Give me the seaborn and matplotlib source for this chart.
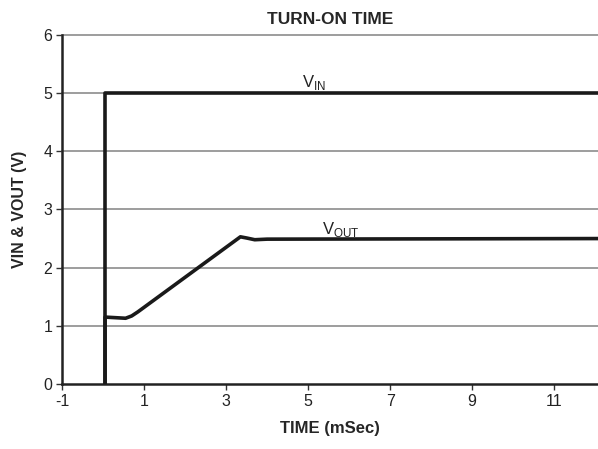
"""
Turn-on time chart: VIN step and VOUT soft-start response.
"""
import matplotlib

matplotlib.use("Agg")
import matplotlib.pyplot as plt
import pandas as pd
import seaborn as sns

# ---- Data ------------------------------------------------------------------ #
vin_time = [0.05, 0.05, 12.1]
vin_volts = [0.0, 5.0, 5.0]

vout_time = [0.05, 0.05, 0.3, 0.55, 0.7, 0.85, 3.35, 3.5, 3.7, 4.0, 12.1]
vout_volts = [0.0, 1.15, 1.14, 1.13, 1.17, 1.24, 2.53, 2.51, 2.48, 2.49, 2.5]

x_ticks = [-1, 1, 3, 5, 7, 9, 11]
y_ticks = [0, 1, 2, 3, 4, 5, 6]

sns.set_style("white")
plt.rcParams["font.family"] = ["Liberation Sans", "DejaVu Sans"]
plt.rcParams["axes.unicode_minus"] = False

vin_df = pd.DataFrame({"t": vin_time, "v": vin_volts})
vout_df = pd.DataFrame({"t": vout_time, "v": vout_volts})

fig = plt.figure(figsize=(5.98, 4.49), dpi=100)
ax = fig.add_axes([0.1037, 0.1448, 0.8963, 0.7773])

for y in y_ticks[1:]:
    ax.axhline(y, color="#8c8c8c", lw=1.2, zorder=1, clip_on=False)

sns.lineplot(data=vin_df, x="t", y="v", sort=False, estimator=None,
             color="#1a1a1a", lw=2.6, ax=ax, zorder=3)
sns.lineplot(data=vout_df, x="t", y="v", sort=False, estimator=None,
             color="#1a1a1a", lw=2.6, ax=ax, zorder=3)

ax.set_xlim(-1, 12.07)
ax.set_ylim(0, 6)
ax.set_xticks(x_ticks)
ax.set_yticks(y_ticks)
ax.tick_params(axis="both", direction="out", length=4, width=1,
               color="#333333", labelsize=11.5, pad=3, colors="#222222")
ax.tick_params(axis="both", which="both", bottom=True, left=True)

for side in ["left", "bottom"]:
    ax.spines[side].set_color("#222222")
    ax.spines[side].set_linewidth(1.8)
ax.spines["top"].set_visible(False)
ax.spines["right"].set_visible(False)

ax.text(4.85, 5.1, r"V$_{\mathregular{IN}}$", fontsize=12, color="#222222")
ax.text(5.35, 2.58, r"V$_{\mathregular{OUT}}$", fontsize=12, color="#222222")

ax.set_title("TURN-ON TIME", fontsize=12.5, fontweight="bold", pad=8)
ax.set_xlabel("TIME (mSec)", fontsize=12, fontweight="bold", labelpad=9)
ax.set_ylabel("VIN & VOUT (V)", fontsize=11.5, fontweight="bold", labelpad=12)

fig.savefig("out.png", dpi=100)
plt.close(fig)
